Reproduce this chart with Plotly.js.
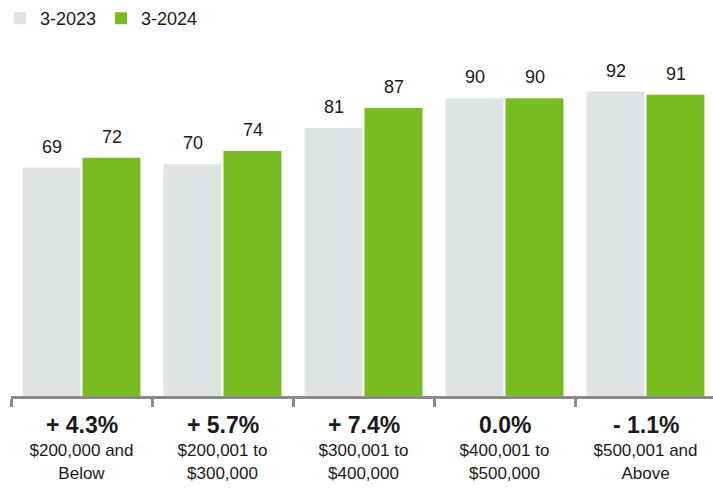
<!DOCTYPE html>
<html>
<head>
<meta charset="utf-8">
<script src="https://cdn.plot.ly/plotly-3.0.1.min.js"></script>
<style>html,body{margin:0;padding:0;overflow:hidden;background:#fff;}</style>
</head>
<body>
<div id="chart" style="width:716px;height:488px;"></div>
<script>
const categories = ["$200,000 and<br>Below", "$200,001 to<br>$300,000", "$300,001 to<br>$400,000", "$400,001 to<br>$500,000", "$500,001 and<br>Above"];
const series2023 = [69, 70, 81, 90, 92];
const series2024 = [72, 74, 87, 90, 91];
const changeLabels = ["+ 4.3%", "+ 5.7%", "+ 7.4%", "0.0%", "- 1.1%"];
const seriesNames = ["3-2023", "3-2024"];

const FONT = "Liberation Sans, Arial, Helvetica, sans-serif";
const colors = ["#dfe3e3", "#78bc21"];

const traces = [
  {type: "bar", name: seriesNames[0], x: categories, y: series2023, marker: {color: colors[0]}, hoverinfo: "x+y"},
  {type: "bar", name: seriesNames[1], x: categories, y: series2024, marker: {color: colors[1]}, hoverinfo: "x+y"}
];

const annotations = [];
[series2023, series2024].forEach((s, si) => {
  s.forEach((v, i) => {
    annotations.push({
      x: categories[i], y: v, xref: "x", yref: "y",
      text: String(v), showarrow: false,
      xshift: si === 0 ? -30 : 30, yshift: 21, yanchor: "middle",
      font: {family: FONT, size: 18, color: "#1a1a1a"}
    });
  });
});
changeLabels.forEach((t, i) => {
  annotations.push({
    x: categories[i], y: 0, xref: "x", yref: "paper",
    text: "<b>" + t + "</b>", showarrow: false,
    yshift: -29, yanchor: "middle",
    font: {family: FONT, size: 23, color: "#1a1a1a"}
  });
});

const layout = {
  width: 716, height: 488,
  margin: {l: 11, r: 0, t: 30, b: 92, autoexpand: false},
  paper_bgcolor: "#ffffff", plot_bgcolor: "#ffffff",
  barmode: "group", bargap: 0.15, bargroupgap: 0.033,
  font: {family: FONT, color: "#1a1a1a"},
  showlegend: true,
  legend: {orientation: "h", x: -0.012, xref: "container", y: 1, yref: "container", yanchor: "top",
           font: {family: FONT, size: 18, color: "#1a1a1a"}, traceorder: "normal"},
  xaxis: {
    type: "category", tickson: "boundaries", ticks: "outside", ticklen: 8, tickwidth: 2.5, tickcolor: "#8a8a8a",
    showline: true, linecolor: "#8a8a8a", linewidth: 3, showgrid: false, zeroline: false,
    tickfont: {family: FONT, size: 17, color: "#1a1a1a"}, ticklabelstandoff: 37
  },
  yaxis: {range: [0, 110.6], visible: false, showgrid: false, zeroline: false},
  annotations: annotations
};

Plotly.newPlot("chart", traces, layout, {displayModeBar: false, responsive: false});
</script>
</body>
</html>
